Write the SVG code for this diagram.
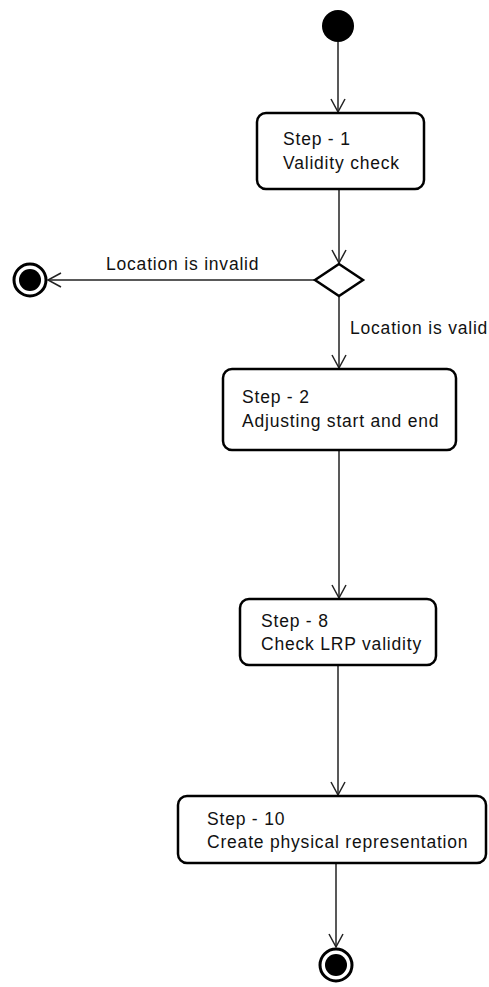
<svg xmlns="http://www.w3.org/2000/svg" width="489" height="987" viewBox="0 0 489 987">
  <style>
    .box { fill: #ffffff; stroke: #000000; stroke-width: 2.5; }
    .edge { fill: none; stroke: #222222; stroke-width: 1.5; }
    .lbl { font-family: "Liberation Sans", Arial, sans-serif; font-size: 17.5px; letter-spacing: 0.8px; fill: #111111; }
    .dot { fill: #000000; }
  </style>
  <defs>
    <marker id="arrow" markerUnits="userSpaceOnUse" markerWidth="16" markerHeight="18" viewBox="-14 -8 16 16" refX="0" refY="0" orient="auto">
      <path d="M -13 -7 L 0 0 L -13 7" fill="none" stroke="#222222" stroke-width="1.5"/>
    </marker>
  </defs>

  <rect width="489" height="987" fill="#ffffff"/>

  <!-- connectors -->
  <g id="edges">
    <line class="edge" x1="338" y1="42" x2="338" y2="112" marker-end="url(#arrow)"/>
    <line class="edge" x1="339" y1="190" x2="339" y2="263" marker-end="url(#arrow)"/>
    <line class="edge" x1="315" y1="280" x2="48" y2="280" marker-end="url(#arrow)"/>
    <line class="edge" x1="339" y1="296" x2="339" y2="368" marker-end="url(#arrow)"/>
    <line class="edge" x1="339" y1="451" x2="339" y2="598" marker-end="url(#arrow)"/>
    <line class="edge" x1="338" y1="666" x2="338" y2="795" marker-end="url(#arrow)"/>
    <line class="edge" x1="336" y1="864" x2="336" y2="947" marker-end="url(#arrow)"/>
    <text class="lbl" x="106" y="270">Location is invalid</text>
    <text class="lbl" x="350" y="334">Location is valid</text>
  </g>

  <!-- start -->
  <g id="start">
    <circle class="dot" cx="338" cy="26" r="16"/>
  </g>

  <g id="step1">
    <rect class="box" x="257" y="113" width="167" height="76" rx="9"/>
    <text class="lbl" x="283" y="145">Step - 1</text>
    <text class="lbl" x="283" y="169">Validity check</text>
  </g>

  <g id="decision">
    <polygon points="339,264 363,280 339,296 315,280" fill="#ffffff" stroke="#000000" stroke-width="2.5"/>
  </g>

  <g id="end-invalid">
    <circle cx="30" cy="280" r="16" fill="#ffffff" stroke="#000000" stroke-width="3"/>
    <circle class="dot" cx="30" cy="280" r="11"/>
  </g>

  <g id="step2">
    <rect class="box" x="223" y="369" width="233" height="81" rx="9"/>
    <text class="lbl" x="242" y="403">Step - 2</text>
    <text class="lbl" x="242" y="427">Adjusting start and end</text>
  </g>

  <g id="step8">
    <rect class="box" x="240" y="599" width="196" height="66" rx="9"/>
    <text class="lbl" x="261" y="627">Step - 8</text>
    <text class="lbl" x="261" y="650">Check LRP validity</text>
  </g>

  <g id="step10">
    <rect class="box" x="178" y="796" width="308" height="67" rx="9"/>
    <text class="lbl" x="207" y="825">Step - 10</text>
    <text class="lbl" x="207" y="848">Create physical representation</text>
  </g>

  <g id="end">
    <circle cx="336" cy="965" r="16" fill="#ffffff" stroke="#000000" stroke-width="3"/>
    <circle class="dot" cx="336" cy="965" r="11"/>
  </g>
</svg>
